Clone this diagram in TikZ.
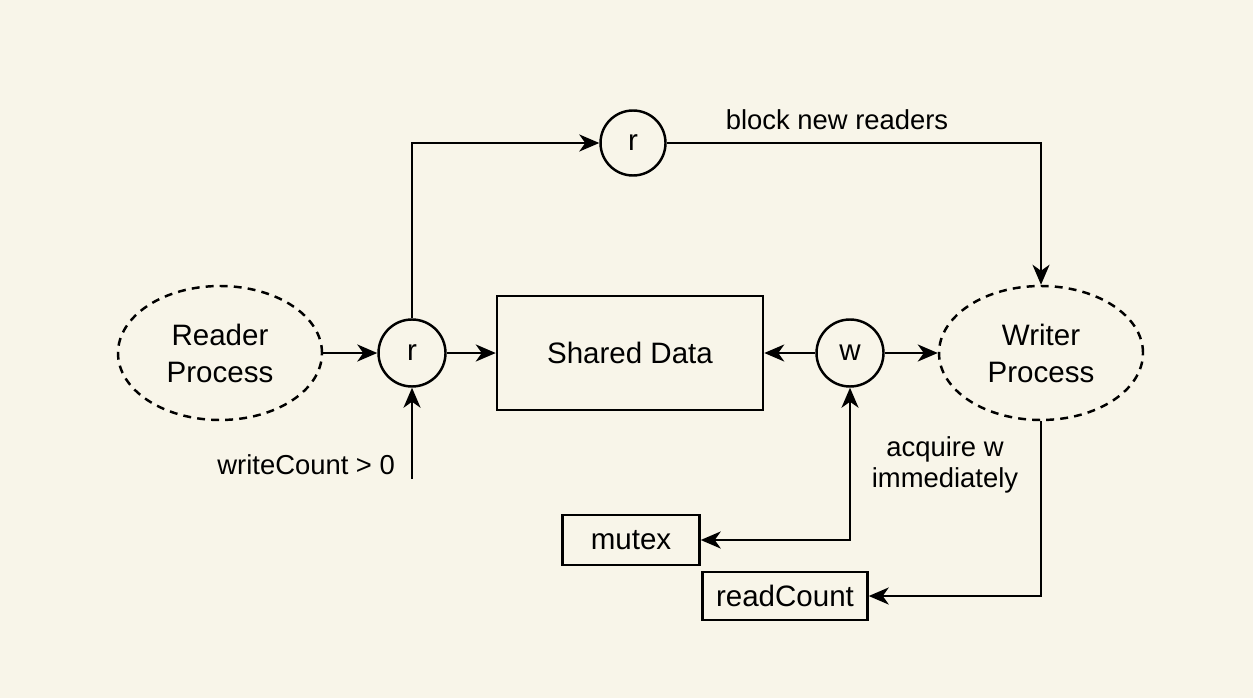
\documentclass[tikz,border=0pt]{standalone}
\usepackage{fontspec}
\setmainfont{Liberation Sans}
\usetikzlibrary{shapes.geometric,arrows.meta}
\definecolor{paper}{RGB}{248,245,233}

\begin{document}
\begin{tikzpicture}[
    >={Stealth[length=4mm,width=3.4mm,inset=1.2mm]},
    line width=1.4pt,
    every node/.style={font=\fontsize{16.8}{21}\selectfont},
    proc/.style={ellipse, draw, dash pattern=on 4.5pt off 3.5pt, minimum width=4.08cm, minimum height=2.68cm, align=center, inner sep=0pt},
    sem/.style={circle, draw, minimum size=1.34cm, inner sep=0pt},
    databox/.style={rectangle, draw, minimum width=5.32cm, minimum height=2.28cm},
    varbox/.style={rectangle, draw, minimum height=1cm, inner sep=0pt},
    note/.style={font=\fontsize{15.6}{17.5}\selectfont, align=center}
]
    \fill[paper](0,0)rectangle(25.06,13.96);
    \useasboundingbox(0,0)rectangle(25.06,13.96);

    \node[proc](reader)at(4.40,6.90){Reader\\Process};
    \node[sem](rin)at(8.24,6.90){r};
    \node[databox](shared)at(12.60,6.90){Shared Data};
    \node[sem](wsem)at(17.00,6.90){w};
    \node[proc](writer)at(20.82,6.90){Writer\\Process};
    \node[sem,minimum size=1.3cm](rtop)at(12.66,11.10){r};

    \node[varbox,minimum width=2.74cm](mutex)at(12.62,3.16){mutex};
    \node[varbox,minimum width=3.30cm,minimum height=0.96cm](readcount)at(15.70,2.04){readCount};

    \node[note](blocklbl)at(16.74,11.56){block new readers};
    \node[note](acqlbl)at(18.90,4.66){acquire w\\immediately};
    \node[note,anchor=east](wclbl)at(8.04,4.66){writeCount > 0};
    \coordinate(wcend)at(8.24,4.38);

    \draw[->](reader)--(rin);
    \draw[->](rin)--(shared);
    \draw[->](wsem)--(shared);
    \draw[->](wsem)--(writer);
    \draw[->](rin)|-(rtop);
    \draw[->](rtop)-|(writer);
    \draw[->](wcend)--(rin);
    \draw[<->](mutex)-|(wsem);
    \draw[->](writer)|-(readcount);
\end{tikzpicture}
\end{document}
